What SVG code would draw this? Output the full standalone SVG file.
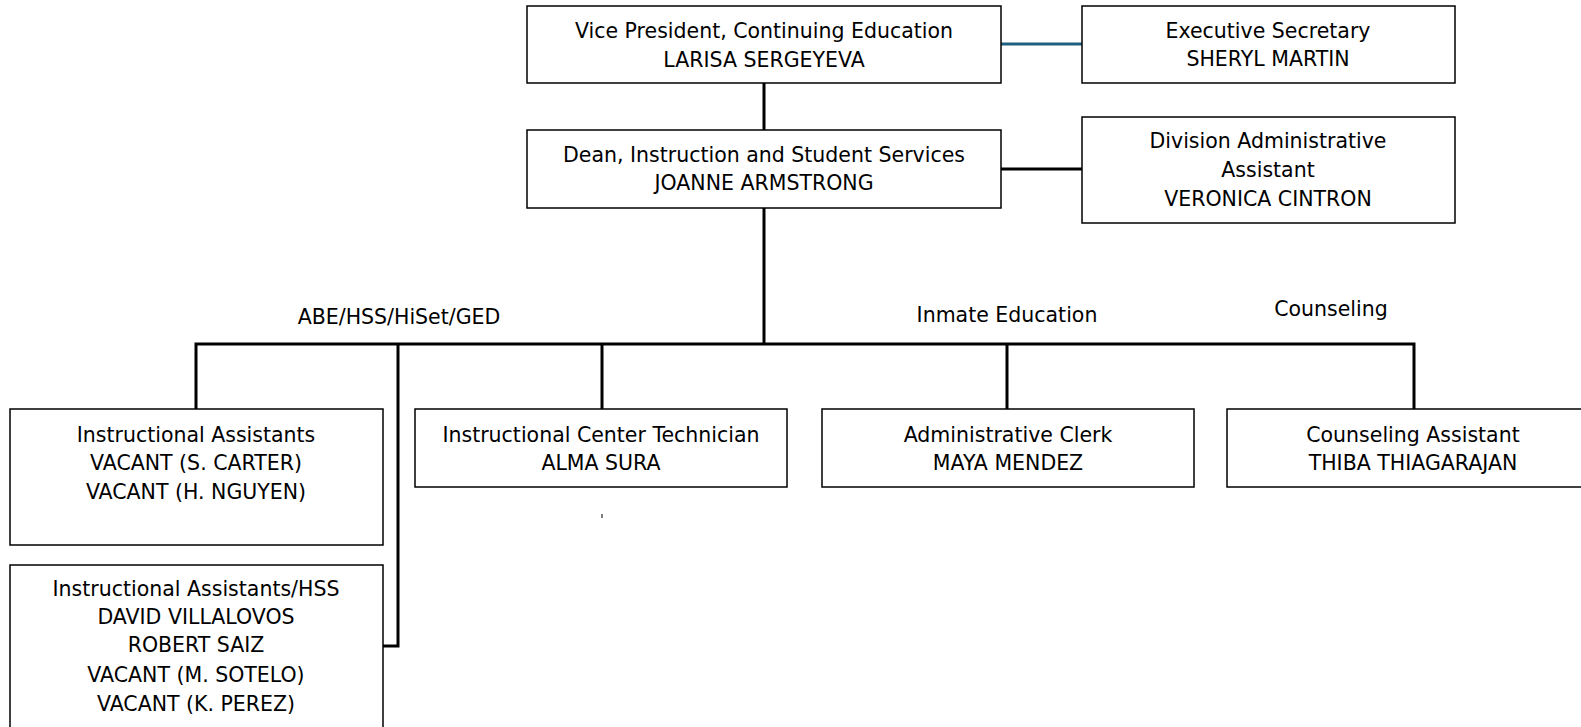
<svg xmlns="http://www.w3.org/2000/svg" width="1581" height="727" viewBox="0 0 1581 727">
<style>
.box{fill:#fff;stroke:#000;stroke-width:1.5}
.t{font-family:"DejaVu Sans","Liberation Sans",Arial,sans-serif;font-size:20.5px;fill:#000;text-anchor:middle}
.c{fill:none;stroke:#000;stroke-width:3}
</style>
<rect width="1581" height="727" fill="#fff"/>
<g id="connectors">
<line x1="1001" y1="44" x2="1082" y2="44" stroke="#1f5f7f" stroke-width="3"/>
<line class="c" x1="764" y1="83" x2="764" y2="130"/>
<line class="c" x1="1001" y1="169" x2="1082" y2="169"/>
<line class="c" x1="764" y1="208" x2="764" y2="344"/>
<polyline class="c" points="196,409 196,344 1414,344 1414,409"/>
<line class="c" x1="602" y1="344" x2="602" y2="409"/>
<line class="c" x1="1007" y1="344" x2="1007" y2="409"/>
<polyline class="c" points="398,344 398,646 383,646"/>
<line x1="602" y1="514" x2="602" y2="518" stroke="#000" stroke-width="1"/>
</g>
<g id="labels">
<text class="t" x="399" y="324">ABE/HSS/HiSet/GED</text>
<text class="t" x="1007" y="322">Inmate Education</text>
<text class="t" x="1331" y="316">Counseling</text>
</g>
<g id="vp">
<rect class="box" x="527" y="6" width="474" height="77"/>
<text class="t" x="764" y="38">Vice President, Continuing Education</text>
<text class="t" x="764" y="67">LARISA SERGEYEVA</text>
</g>
<g id="exec">
<rect class="box" x="1082" y="6" width="373" height="77"/>
<text class="t" x="1268" y="38">Executive Secretary</text>
<text class="t" x="1268" y="66">SHERYL MARTIN</text>
</g>
<g id="dean">
<rect class="box" x="527" y="130" width="474" height="78"/>
<text class="t" x="764" y="162">Dean, Instruction and Student Services</text>
<text class="t" x="764" y="190">JOANNE ARMSTRONG</text>
</g>
<g id="divadmin">
<rect class="box" x="1082" y="117" width="373" height="106"/>
<text class="t" x="1268" y="148">Division Administrative</text>
<text class="t" x="1268" y="177">Assistant</text>
<text class="t" x="1268" y="206">VERONICA CINTRON</text>
</g>
<g id="ia">
<rect class="box" x="10" y="409" width="373" height="136"/>
<text class="t" x="196" y="442">Instructional Assistants</text>
<text class="t" x="196" y="470">VACANT (S. CARTER)</text>
<text class="t" x="196" y="499">VACANT (H. NGUYEN)</text>
</g>
<g id="ict">
<rect class="box" x="415" y="409" width="372" height="78"/>
<text class="t" x="601" y="442">Instructional Center Technician</text>
<text class="t" x="601" y="470">ALMA SURA</text>
</g>
<g id="clerk">
<rect class="box" x="822" y="409" width="372" height="78"/>
<text class="t" x="1008" y="442">Administrative Clerk</text>
<text class="t" x="1008" y="470">MAYA MENDEZ</text>
</g>
<g id="counsel">
<rect class="box" x="1227" y="409" width="372" height="78"/>
<text class="t" x="1413" y="442">Counseling Assistant</text>
<text class="t" x="1413" y="470">THIBA THIAGARAJAN</text>
</g>
<g id="iahss">
<rect class="box" x="10" y="565" width="373" height="175"/>
<text class="t" x="196" y="596">Instructional Assistants/HSS</text>
<text class="t" x="196" y="624">DAVID VILLALOVOS</text>
<text class="t" x="196" y="652">ROBERT SAIZ</text>
<text class="t" x="196" y="682">VACANT (M. SOTELO)</text>
<text class="t" x="196" y="711">VACANT (K. PEREZ)</text>
</g>
</svg>
